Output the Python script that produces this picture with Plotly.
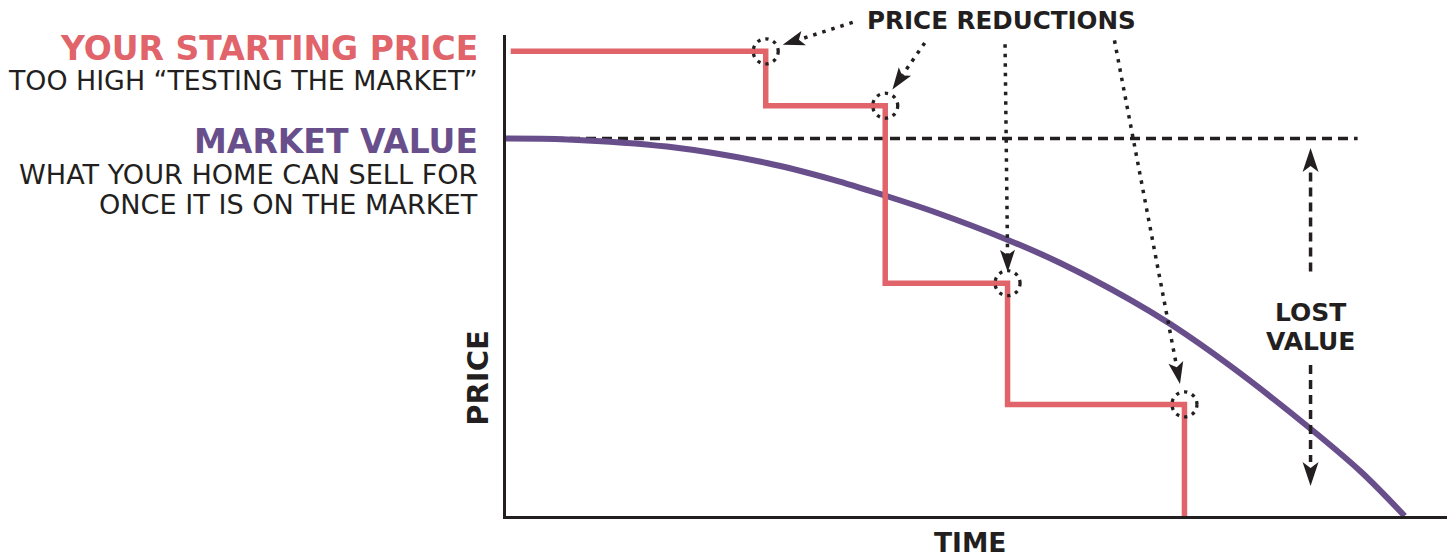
import math
import plotly.graph_objects as go

# ---------------- data (arbitrary 0-100 units) ----------------
# asking price: listing start and each price reduction (time, new price)
step_times = [0.5, 27.6, 40.3, 53.3, 72.1]
step_prices = [96.6, 85.3, 48.4, 23.2, 0.0]

# market value curve over time
mv_times = [0.0, 6.5, 17.1, 27.7, 34.8, 40.3, 45.4, 53.2, 58.9, 66.3, 70.6, 76.9, 85.4, 90.8, 95.5]
mv_prices = [78.5, 78.3, 76.8, 73.4, 69.9, 66.6, 63.3, 57.5, 52.6, 45.0, 39.9, 31.3, 18.3, 9.3, 0.0]

reference_end_time = 90.5     # end of dashed "initial market value" line
lost_value_time = 85.5        # position of the LOST VALUE double arrow

X_RANGE = [0, 100]
Y_RANGE = [0, 100]

# ---------------- styles ----------------
RED = "#E0646A"
PURPLE = "#684F8C"
INK = "#231F20"
FONT = "DejaVu Sans"


def px_(t):   # data time -> paper fraction (x domain is [0, 1])
    return (t - X_RANGE[0]) / (X_RANGE[1] - X_RANGE[0])


def py_(p):   # data price -> paper fraction (y domain is [0, 1])
    return (p - Y_RANGE[0]) / (Y_RANGE[1] - Y_RANGE[0])


fig = go.Figure()

# dashed initial market-value reference
fig.add_trace(go.Scatter(
    x=[0, reference_end_time], y=[mv_prices[0], mv_prices[0]], mode="lines",
    line=dict(color=INK, width=3.5, dash="10px,6px"), hoverinfo="skip"))

# market value curve
fig.add_trace(go.Scatter(
    x=mv_times, y=mv_prices, mode="lines",
    line=dict(color=PURPLE, width=6, shape="spline", smoothing=1.0), hoverinfo="skip"))

# asking price steps
fig.add_trace(go.Scatter(
    x=step_times, y=step_prices, mode="lines",
    line=dict(color=RED, width=5.5, shape="hv"), hoverinfo="skip"))

shapes = []
annotations = []


def pix_shape(t, p, path, **kw):
    d = dict(type="path", xref="paper", yref="paper", xsizemode="pixel", ysizemode="pixel",
             xanchor=px_(t), yanchor=py_(p), path=path, layer="above")
    d.update(kw)
    return d


def head(tip, direction, L, W, notch):
    ux, uy = direction
    n = math.hypot(ux, uy)
    ux, uy = ux / n, uy / n
    qx, qy = -uy, ux
    bx, by = tip[0] - L * ux, tip[1] - L * uy
    nx, ny = tip[0] - (L - notch) * ux, tip[1] - (L - notch) * uy
    pts = [tip, (bx + W * qx, by + W * qy), (nx, ny), (bx - W * qx, by - W * qy)]
    return "M " + " L ".join(f"{x:.2f},{y:.2f}" for x, y in pts) + " Z", (nx, ny)


def dotted_arrow(t, p, start, tip):
    d = (tip[0] - start[0], tip[1] - start[1])
    hp, neck = head(tip, d, 22, 7.5, 5)
    shapes.append(pix_shape(t, p, f"M {start[0]:.2f},{start[1]:.2f} L {neck[0]:.2f},{neck[1]:.2f}",
                            line=dict(color=INK, width=3.5, dash="3.5px,6px")))
    shapes.append(pix_shape(t, p, hp, fillcolor=INK, line=dict(width=0)))


# dotted circles at each price reduction corner
corners = [(step_times[i + 1], step_prices[i]) for i in range(4)]
for (t, p) in corners:
    shapes.append(dict(type="circle", xref="paper", yref="paper", xsizemode="pixel", ysizemode="pixel",
                       xanchor=px_(t), yanchor=py_(p), x0=-12.5, x1=12.5, y0=-12.5, y1=12.5,
                       line=dict(color=INK, width=3.3, dash="3.3px,5px"), layer="above"))

# dotted pointer arrows from the "PRICE REDUCTIONS" label (pixel offsets from corner, y up)
pointer_offsets = [((87, 29), (17, 6.5)), ((39.5, 62.8), (7.2, 16.2)),
                   ((-2.5, 239), (0.2, 11.3)), ((-70, 364), (-4.5, 20.5))]
for (t, p), (s, tp) in zip(corners, pointer_offsets):
    dotted_arrow(t, p, s, tp)

# LOST VALUE double arrow
dash_lv = dict(color=INK, width=3.5, dash="9px,6px")
hp, neck = head((0, -9.6), (0, 1), 24, 8, 6)
shapes.append(pix_shape(lost_value_time, mv_prices[0], "M 0,-34 L 0,-134", line=dash_lv))
shapes.append(pix_shape(lost_value_time, mv_prices[0], hp, fillcolor=INK, line=dict(width=0)))
hp, neck = head((0, 30), (0, -1), 24, 8, 6)
shapes.append(pix_shape(lost_value_time, 0, "M 0,151 L 0,54", line=dash_lv))
shapes.append(pix_shape(lost_value_time, 0, hp, fillcolor=INK, line=dict(width=0)))


def text(t, p, s, size, color=INK, bold=False, xanchor="center", **kw):
    d = dict(x=px_(t), y=py_(p), xref="paper", yref="paper", text=s, showarrow=False,
             xanchor=xanchor, yanchor="middle",
             font=dict(family=FONT, size=size, color=color, weight="bold" if bold else "normal"))
    d.update(kw)
    annotations.append(d)


LX = -2.8
text(LX, 97.15, "YOUR STARTING PRICE", 33, RED, True, "right")
text(LX, 90.44, "TOO HIGH “TESTING THE MARKET”", 26.8, INK, False, "right")
text(LX, 77.85, "MARKET VALUE", 33, PURPLE, True, "right")
text(LX, 71.0, "WHAT YOUR HOME CAN SELL FOR", 27.1, INK, False, "right")
text(LX, 64.85, "ONCE IT IS ON THE MARKET", 27.1, INK, False, "right")
text(52.7, 103.1, "PRICE REDUCTIONS", 24.6, INK, True)
text(lost_value_time, 42.35, "LOST", 25, INK, True)
text(lost_value_time, 36.2, "VALUE", 25, INK, True)
text(49.3, -5.5, "TIME", 26.5, INK, True)
text(-3.0, 28.7, "PRICE", 29, INK, True, textangle=-90)

axis = dict(showline=True, linecolor=INK, linewidth=3, showgrid=False,
            zeroline=False, ticks="", showticklabels=False, fixedrange=True)

fig.update_layout(
    width=1452, height=558, autosize=False,
    margin=dict(l=506, r=5, t=35, b=42, pad=0),
    paper_bgcolor="white", plot_bgcolor="white",
    showlegend=False,
    xaxis=dict(axis, range=X_RANGE), yaxis=dict(axis, range=Y_RANGE),
    shapes=shapes, annotations=annotations,
)

fig.write_html("out.html", config={"displayModeBar": False})
